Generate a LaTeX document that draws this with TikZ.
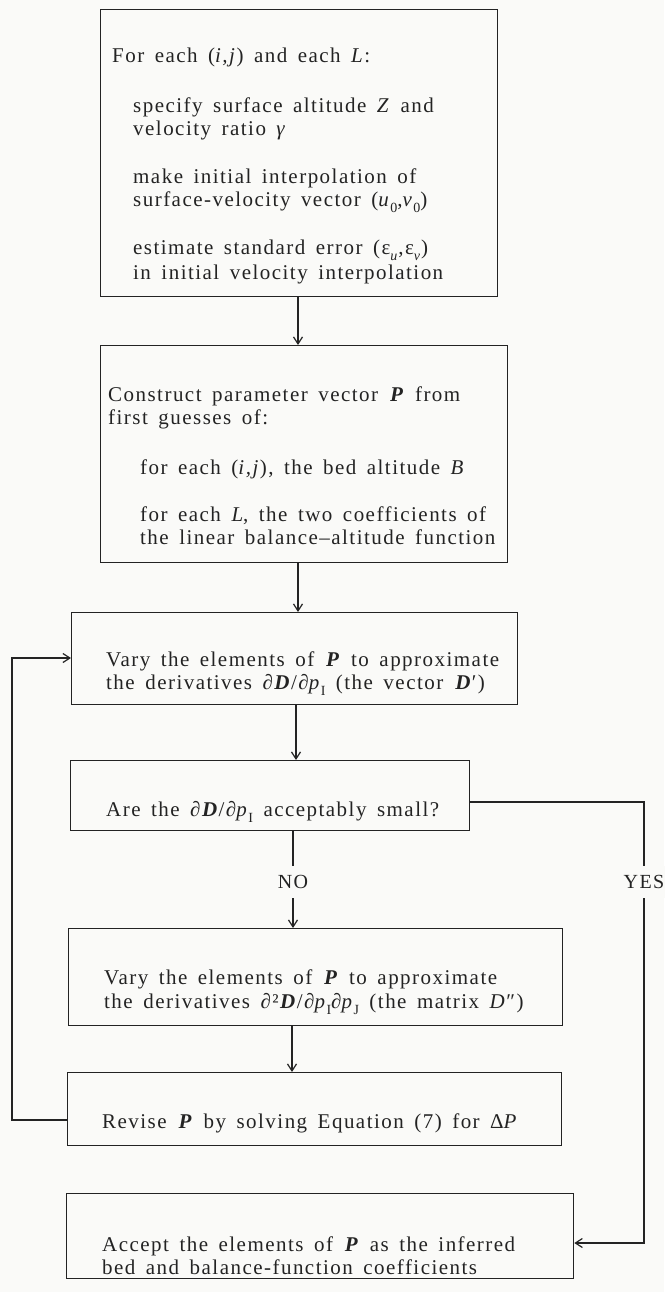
\documentclass[tikz,border=0pt]{standalone}
\usepackage{fontspec}
\setmainfont{Liberation Serif}[LetterSpace=7]
\usetikzlibrary{arrows.meta}
\definecolor{ink}{RGB}{35,35,35}
\definecolor{paper}{RGB}{250,250,248}
\newcommand{\sbs}[1]{\raisebox{-0.3em}{\fontsize{14}{14}\selectfont #1}}
\newcommand{\bi}[1]{\textbf{\textit{#1}}}
\newcommand{\txtfont}{\fontsize{21}{24}\selectfont\setlength{\spaceskip}{0.5em}}
\begin{document}
\begin{tikzpicture}[x=1pt,y=-1pt,
  box/.style={draw=ink, line width=1.3pt, rectangle, inner sep=0pt, anchor=north west},
  txt/.style={anchor=base west, inner sep=0pt, text=ink, font=\txtfont},
  lab/.style={inner xsep=2pt, inner ysep=9pt, fill=paper, text=ink, font=\fontsize{20}{22}\selectfont},
  arr/.style={draw=ink, line width=1.2pt, -{Straight Barb[length=7pt,width=9pt]}},
  ln/.style={draw=ink, line width=1.2pt}]
\fill[paper] (0,0) rectangle (664,1292);
\useasboundingbox (0,0) rectangle (664,1292);
% boxes
\node[box, minimum width=397pt, minimum height=287pt] (b1) at (100,9) {};
\node[box, minimum width=407pt, minimum height=217pt] (b2) at (100,345) {};
\node[box, minimum width=446pt, minimum height=92pt] (b3) at (71,612) {};
\node[box, minimum width=399pt, minimum height=70pt] (b4) at (70,760) {};
\node[box, minimum width=494pt, minimum height=97pt] (b5) at (68,928) {};
\node[box, minimum width=494pt, minimum height=73pt] (b6) at (67,1072) {};
\node[box, minimum width=507pt, minimum height=85pt] (b7) at (66,1193) {};
% texts box 1
\node[txt] (t1a) at (112,63) {For each (\textit{i,j}) and each \textit{L}:};
\node[txt] (t1b) at (133,113) {specify surface altitude \textit{Z} and};
\node[txt] (t1c) at (133,136) {velocity ratio \textit{γ}};
\node[txt] (t1d) at (133,183) {make initial interpolation of};
\node[txt] (t1e) at (133,206) {surface-velocity vector (\textit{u}\sbs{0},\textit{v}\sbs{0})};
\node[txt] (t1f) at (133,254) {estimate standard error (ε\sbs{\textit{u}},ε\sbs{\textit{v}})};
\node[txt] (t1g) at (133,279) {in initial velocity interpolation};
% texts box 2
\node[txt] (t2a) at (108,401) {Construct parameter vector \bi{P} from};
\node[txt] (t2b) at (108,424) {first guesses of:};
\node[txt] (t2c) at (140,474) {for each (\textit{i,j}), the bed altitude \textit{B}};
\node[txt] (t2d) at (140,521) {for each \textit{L}, the two coefficients of};
\node[txt] (t2e) at (140,544) {the linear balance–altitude function};
% texts box 3
\node[txt] (t3a) at (106,666) {Vary the elements of \bi{P} to approximate};
\node[txt] (t3b) at (106,689) {the derivatives ∂\bi{D}/∂\textit{p}\sbs{I} (the vector \bi{D}′)};
% box 4
\node[txt] (t4a) at (106,816) {Are the ∂\bi{D}/∂\textit{p}\sbs{I} acceptably small?};
% box 5
\node[txt] (t5a) at (104,984) {Vary the elements of \bi{P} to approximate};
\node[txt] (t5b) at (104,1008) {the derivatives ∂²\bi{D}/∂\textit{p}\sbs{I}∂\textit{p}\sbs{J} (the matrix \textit{D}″)};
% box 6
\node[txt] (t6a) at (102,1128) {Revise \bi{P} by solving Equation (7) for Δ\textit{P}};
% box 7
\node[txt] (t7a) at (102,1251) {Accept the elements of \bi{P} as the inferred};
\node[txt] (t7b) at (102,1274) {bed and balance-function coefficients};
% connectors
\coordinate (c1) at (298,0);
\coordinate (c3) at (296,0);
\coordinate (c4) at (293,0);
\coordinate (c5) at (292,0);
\draw[arr] (c1 |- b1.south) -- (c1 |- b2.north);
\draw[arr] (c1 |- b2.south) -- (c1 |- b3.north);
\draw[arr] (c3 |- b3.south) -- (c3 |- b4.north);
\draw[arr] (c4 |- b4.south) -- (c4 |- b5.north);
\draw[arr] (c5 |- b5.south) -- (c5 |- b6.north);
% feedback loop
\coordinate (fx) at (12,0);
\coordinate (fy) at (0,1120);
\coordinate (ty) at (0,658);
\draw[arr] (b6.west |- fy) -- (fx |- fy) -- (fx |- ty) -- (b3.west |- ty);
% yes branch
\coordinate (yx) at (644,0);
\coordinate (yy) at (0,802);
\coordinate (ay) at (0,1243);
\draw[arr] (b4.east |- yy) -- (yx |- yy) -- (yx |- ay) -- (b7.east |- ay);
% labels
\coordinate (ly) at (0,882);
\node[lab] (no) at (c4 |- ly) {NO};
\node[lab] (yes) at (yx |- ly) {YES};
\end{tikzpicture}
\end{document}
